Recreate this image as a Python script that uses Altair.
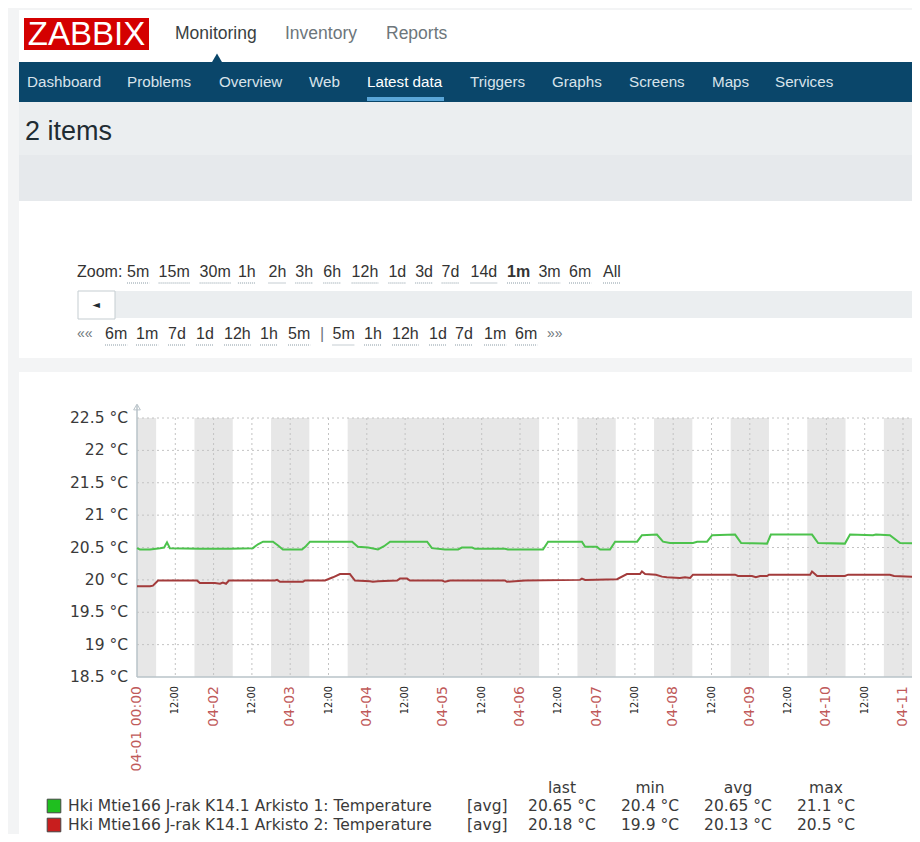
import altair as alt
import pandas as pd

OFF = 8            # page margin
W, H = 904, 826    # whole canvas (fits inside the page margins)

# ---------------- data ----------------
green_hours = [0, 0.9, 4.1, 7.2, 8.5, 9.4, 10.3, 19.7, 29.1, 36.3, 37.9, 39.5, 42.6, 44.2, 45.7, 51.7, 52.9,
               54.2, 67.4, 69.2, 72.4, 75.5, 77.4, 79.3, 90.9, 92.4, 96.5, 100.6, 101.8, 105.0, 105.9, 115.3,
               116.2, 127.2, 128.8, 139.4, 140.4, 144.1, 145.1, 148.2, 149.8, 156.7, 158.2, 162.9, 164.8,
               167.0, 174.2, 175.5, 178.6, 180.2, 187.4, 189.3, 197.4, 198.6, 211.5, 213.4, 221.8, 223.4,
               230.6, 231.5, 235.9, 239.1, 246]
green_temp = [20.49, 20.47, 20.47, 20.49, 20.50, 20.58, 20.49, 20.48, 20.48, 20.49, 20.55, 20.59, 20.59, 20.53,
              20.47, 20.47, 20.52, 20.59, 20.59, 20.51, 20.50, 20.47, 20.52, 20.59, 20.59, 20.49, 20.47, 20.47,
              20.50, 20.50, 20.48, 20.48, 20.47, 20.47, 20.59, 20.59, 20.51, 20.51, 20.47, 20.47, 20.59, 20.59,
              20.69, 20.70, 20.59, 20.57, 20.57, 20.59, 20.59, 20.69, 20.70, 20.57, 20.56, 20.70, 20.70, 20.57,
              20.56, 20.70, 20.69, 20.70, 20.69, 20.57, 20.56]
red_hours = [0, 4.1, 5.0, 6.6, 18.8, 19.7, 24.4, 26.0, 26.9, 27.9, 28.8, 43.2, 43.9, 44.8, 52.0, 52.6, 58.9,
             61.4, 63.6, 66.7, 68.3, 73.0, 73.9, 75.5, 81.5, 82.4, 84.6, 85.5, 95.6, 96.5, 98.1, 115.3, 115.9,
             118.4, 121.6, 138.8, 139.4, 140.4, 150.4, 153.5, 157.6, 158.2, 159.2, 162.6, 164.5, 166.0, 170.1,
             171.7, 173.3, 174.2, 187.4, 188.3, 192.7, 193.9, 195.2, 197.4, 198.0, 210.9, 211.5, 213.1, 221.8,
             222.8, 235.9, 237.2, 242.8, 246]
red_temp = [19.90, 19.90, 19.91, 19.99, 19.99, 19.95, 19.95, 19.94, 19.96, 19.94, 19.99, 19.99, 20.00, 19.97,
            19.97, 19.99, 19.99, 20.04, 20.09, 20.09, 19.99, 19.98, 19.97, 19.98, 19.99, 20.02, 20.02, 19.99,
            19.99, 19.97, 19.99, 19.99, 19.97, 19.98, 19.99, 20.00, 20.02, 20.00, 20.01, 20.09, 20.09, 20.13,
            20.09, 20.08, 20.05, 20.04, 20.03, 20.04, 20.03, 20.08, 20.08, 20.06, 20.06, 20.04, 20.06, 20.06,
            20.08, 20.08, 20.13, 20.06, 20.06, 20.08, 20.08, 20.06, 20.05, 20.06]

# non-working periods (hours since 04-01 00:00)
band_start = [0, 18, 42, 66, 138, 162, 186, 210, 234]
band_end = [6, 30, 54, 126, 150, 174, 198, 222, 246]

tick_hours = list(range(0, 241, 12))
tick_labels = ["04-01 00:00", "12:00", "04-02", "12:00", "04-03", "12:00", "04-04", "12:00", "04-05", "12:00",
               "04-06", "12:00", "04-07", "12:00", "04-08", "12:00", "04-09", "12:00", "04-10", "12:00", "04-11"]
y_ticks = [22.5, 22, 21.5, 21, 20.5, 20, 19.5, 19, 18.5]
y_labels = ["22.5 °C", "22 °C", "21.5 °C", "21 °C", "20.5 °C", "20 °C", "19.5 °C", "19 °C", "18.5 °C"]

series_names = ["Hki Mtie166 J-rak K14.1 Arkisto 1: Temperature", "Hki Mtie166 J-rak K14.1 Arkisto 2: Temperature"]
stat_heads = ["last", "min", "avg", "max"]
stat_last = ["20.65 °C", "20.18 °C"]
stat_min = ["20.4 °C", "19.9 °C"]
stat_avg = ["20.65 °C", "20.13 °C"]
stat_max = ["21.1 °C", "20.5 °C"]

top_menu = ["Monitoring", "Inventory", "Reports"]
nav_items = ["Dashboard", "Problems", "Overview", "Web", "Latest data", "Triggers", "Graphs", "Screens", "Maps", "Services"]
zoom_items = ["5m", "15m", "30m", "1h", "2h", "3h", "6h", "12h", "1d", "3d", "7d", "14d", "1m", "3m", "6m", "All"]
nav_back = ["6m", "1m", "7d", "1d", "12h", "1h", "5m"]
nav_fwd = ["5m", "1h", "12h", "1d", "7d", "1m", "6m"]

# ---------------- layout / style ----------------
GREEN_LINE = "#4cc24c"
RED_LINE = "#a33b3b"
NAVY = "#0a466a"
DARK = "#1f2c33"

top_menu_x = [175, 285, 386]
nav_x = [27, 127, 219, 309, 367, 470, 552, 629, 712, 775]
zoom_x = [127, 158.6, 199.6, 237.9, 268.5, 295.3, 323.3, 351.6, 388.4, 415.2, 441.6, 470.5, 507, 538.4, 569, 603]
back_x = [105, 136, 168, 196, 224, 260, 288]
fwd_x = [332.5, 364, 392, 429, 455, 484, 515]

xs = alt.Scale(domain=[0, 246], range=[137 - OFF, 137 - OFF + 246 * 76.6 / 24], nice=False, zero=False)
ys = alt.Scale(domain=[18.5, 22.5], range=[677 - OFF, 418 - OFF], nice=False, zero=False)

one = pd.DataFrame({"k": [0]})
CW = {c: 0.556 for c in "0123456789hd«»"}
CW.update({"m": 0.833, "A": 0.667, "l": 0.222})


def tw(s, size, bold=False):
    w = 0
    for c in s:
        w += (0.889 if (bold and c == "m") else CW.get(c, 0.556))
    return w * size


def px(v):
    return alt.value(v - OFF)


def box(x1, y1, x2, y2, fill, stroke=None):
    kw = dict(fill=fill)
    if stroke:
        kw.update(stroke=stroke, strokeWidth=1)
    else:
        kw.update(strokeWidth=0)
    return alt.Chart(one).mark_rect(**kw).encode(x=px(x1), x2=px(x2), y=px(y1), y2=px(y2))


def txt(s, x, y, size, color, font="Liberation Sans", align="left", weight="normal"):
    return alt.Chart(one).mark_text(text=s, font=font, fontSize=size, color=color, align=align,
                                    baseline="middle", fontWeight=weight).encode(x=px(x), y=px(y))


def hline(x1, x2, y, color, dash=None):
    kw = dict(color=color, strokeWidth=1)
    if dash:
        kw["strokeDash"] = dash
    return alt.Chart(one).mark_rule(**kw).encode(x=px(x1), x2=px(x2), y=px(y))


layers = []
# page chrome
layers += [
    box(19, 10, 920, 62, "#ffffff"),
    box(19, 62, 920, 102, NAVY),
    box(19, 102, 920, 155, "#ebeef0"),
    box(19, 155, 920, 201, "#e6e9ec"),
    box(19, 201, 920, 358, "#ffffff"),
    box(19, 372, 920, 842, "#ffffff"),
    box(24, 18, 149, 50, "#d40000"),
    txt("ZABBIX", 86.5, 34.5, 33, "#ffffff", align="center"),
]
for i, s in enumerate(top_menu):
    layers.append(txt(s, top_menu_x[i], 34, 17.5, "#3a3f42" if i == 0 else "#6d767b"))
layers.append(alt.Chart(one).mark_point(shape="triangle-up", filled=True, size=110, color=NAVY, opacity=1)
              .encode(x=px(217), y=px(58)))
for i, s in enumerate(nav_items):
    layers.append(txt(s, nav_x[i], 82, 15.2, "#ffffff" if s == "Latest data" else "#d8e3ea"))
layers.append(box(367, 97, 444, 101, "#5aa6d8"))
layers.append(txt("2 items", 25, 132, 27, DARK))

# zoom controls
layers.append(txt("Zoom:", 77, 272, 16, "#333333"))
for i, s in enumerate(zoom_items):
    bold = s == "1m"
    layers.append(txt(s, zoom_x[i], 272, 16, "#333333", weight="bold" if bold else "normal"))
    layers.append(hline(zoom_x[i], zoom_x[i] + tw(s, 16, bold), 283, "#8a9ba5", dash=[1, 1]))
layers.append(box(115, 291, 920, 318, "#ebeef0"))
layers.append(box(78, 291, 115, 319, "#ffffff", stroke="#c5cdd1"))
layers.append(txt("◄", 96, 305, 10, DARK, font="DejaVu Sans", align="center"))
layers.append(txt("««", 77, 334, 14, "#6d767b"))
for i, s in enumerate(nav_back):
    layers.append(txt(s, back_x[i], 334, 16, "#333333"))
    layers.append(hline(back_x[i], back_x[i] + tw(s, 16), 345, "#8a9ba5", dash=[1, 1]))
layers.append(txt("|", 320, 334, 16, "#6d767b"))
for i, s in enumerate(nav_fwd):
    layers.append(txt(s, fwd_x[i], 334, 16, "#333333"))
    layers.append(hline(fwd_x[i], fwd_x[i] + tw(s, 16), 345, "#8a9ba5", dash=[1, 1]))
layers.append(txt("»»", 547, 334, 14, "#6d767b"))

# ---------------- graph ----------------
bands = pd.DataFrame({"s": band_start, "e": band_end, "top": y_ticks[0], "bot": y_ticks[-1]})
layers.append(alt.Chart(bands).mark_rect(color="#e7e7e7").encode(
    x=alt.X("s:Q", scale=xs, axis=None), x2="e:Q",
    y=alt.Y("top:Q", scale=ys, axis=None), y2="bot:Q"))

hgrid = pd.DataFrame({"v": y_ticks[:-1]})
layers.append(alt.Chart(hgrid).mark_rule(color="#c3c3c3", strokeDash=[2, 3], strokeWidth=1).encode(
    y=alt.Y("v:Q", scale=ys, axis=None), x=px(137), x2=px(920)))
vgrid = pd.DataFrame({"h": tick_hours[1:], "top": y_ticks[0], "bot": y_ticks[-1]})
layers.append(alt.Chart(vgrid).mark_rule(color="#c3c3c3", strokeDash=[2, 3], strokeWidth=1).encode(
    x=alt.X("h:Q", scale=xs, axis=None), y=alt.Y("top:Q", scale=ys, axis=None), y2="bot:Q"))

# axis lines + arrow
axis_df = pd.DataFrame({"h": [0], "v": [y_ticks[-1]]})
layers.append(alt.Chart(axis_df).mark_rule(color="#b9c3c9", strokeWidth=1.5).encode(
    x=alt.X("h:Q", scale=xs, axis=None), y=px(405), y2=px(677)))
layers.append(alt.Chart(axis_df).mark_rule(color="#b9c3c9", strokeWidth=1.5).encode(
    y=alt.Y("v:Q", scale=ys, axis=None), x=px(137), x2=px(920)))
layers.append(alt.Chart(axis_df).mark_point(shape="triangle-up", filled=False, size=45, color="#b9c3c9",
                                            strokeWidth=1, opacity=1).encode(
    x=alt.X("h:Q", scale=xs, axis=None), y=px(407)))

# series
gdf = pd.DataFrame({"h": green_hours, "v": green_temp})
rdf = pd.DataFrame({"h": red_hours, "v": red_temp})
layers.append(alt.Chart(gdf).mark_line(color=GREEN_LINE, strokeWidth=2).encode(
    x=alt.X("h:Q", scale=xs, axis=None), y=alt.Y("v:Q", scale=ys, axis=None)))
layers.append(alt.Chart(rdf).mark_line(color=RED_LINE, strokeWidth=2).encode(
    x=alt.X("h:Q", scale=xs, axis=None), y=alt.Y("v:Q", scale=ys, axis=None)))

# y labels
ylab = pd.DataFrame({"v": y_ticks, "t": y_labels})
layers.append(alt.Chart(ylab).mark_text(align="right", baseline="middle", font="DejaVu Sans", fontSize=15.5,
                                        color="#3a3a3a").encode(
    y=alt.Y("v:Q", scale=ys, axis=None), x=px(128), text="t:N"))

# x labels (rotated)
xlab = pd.DataFrame({"h": tick_hours, "t": tick_labels})
day_lab = xlab[xlab["t"] != "12:00"]
half_lab = xlab[xlab["t"] == "12:00"]
layers.append(alt.Chart(day_lab).mark_text(angle=270, align="right", baseline="middle", font="DejaVu Sans",
                                           fontSize=14, color="#c05a5a").encode(
    x=alt.X("h:Q", scale=xs, axis=None), y=px(686), text="t:N"))
layers.append(alt.Chart(half_lab).mark_text(angle=270, align="right", baseline="middle", font="DejaVu Sans",
                                            fontSize=9.8, color="#222222").encode(
    x=alt.X("h:Q", scale=xs, axis=None), y=px(686), text="t:N"))

# legend table
col_x = [562, 650, 738, 826]
for j, hname in enumerate(stat_heads):
    layers.append(txt(hname, col_x[j], 788, 15.5, "#3a3a3a", font="DejaVu Sans", align="center"))
sq_colors = ["#1fbf1f", "#c81e1e"]
for i, name in enumerate(series_names):
    yy = 806 + i * 19
    layers.append(alt.Chart(one).mark_square(size=185, filled=True, color=sq_colors[i], stroke="#444444",
                                             strokeWidth=1, opacity=1).encode(x=px(54), y=px(yy)))
    layers.append(txt(name, 68, yy, 15.5, "#3a3a3a", font="DejaVu Sans"))
    layers.append(txt("[avg]", 467, yy, 15.5, "#3a3a3a", font="DejaVu Sans"))
    for j, col in enumerate([stat_last, stat_min, stat_avg, stat_max]):
        layers.append(txt(col[i], col_x[j], yy, 15.5, "#3a3a3a", font="DejaVu Sans", align="center"))

chart = alt.layer(*layers).properties(
    width=W, height=H, background="#f3f4f5", padding=0,
    autosize=alt.AutoSizeParams(type="none"),
).configure_view(stroke=None)

chart.save("out.html", embed_options={"renderer": "svg", "actions": False})
